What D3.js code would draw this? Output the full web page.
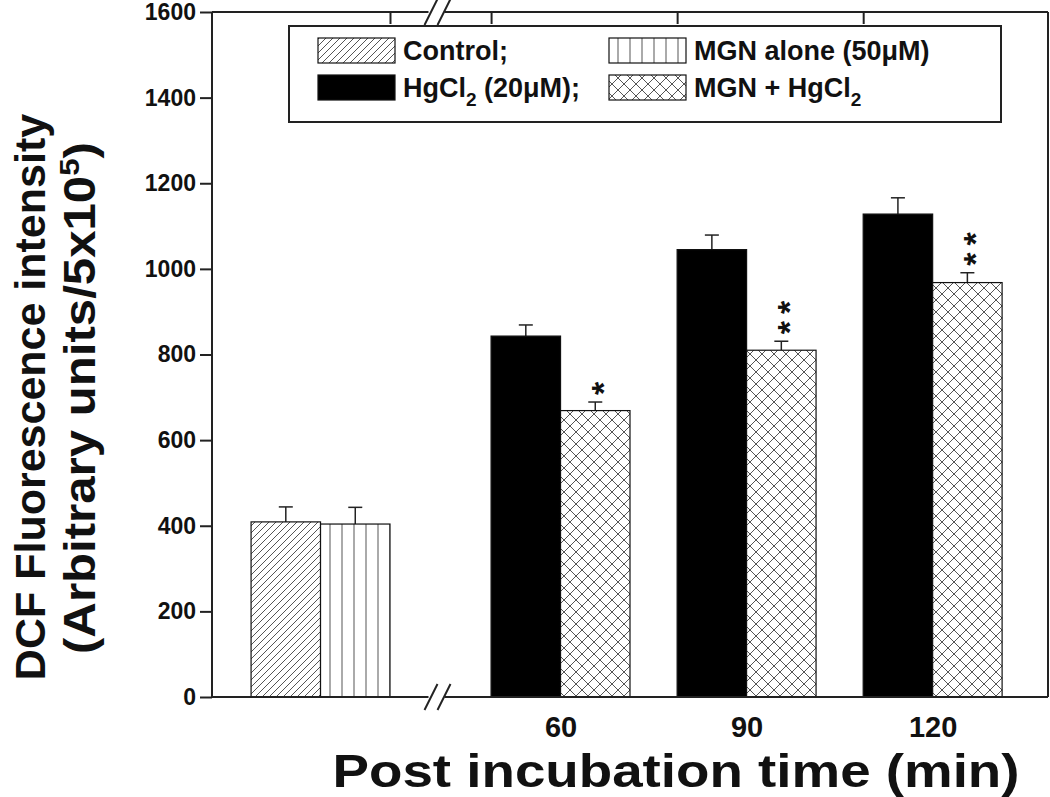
<!DOCTYPE html>
<html><head><meta charset="utf-8">
<script src="https://cdn.jsdelivr.net/npm/d3@7"></script>
<style>body{margin:0;background:#fff}svg{display:block}text{font-family:"Liberation Sans",Arial,sans-serif;font-weight:bold;fill:#111}</style>
</head><body>
<svg id="c" width="1050" height="797"></svg>
<script>
// ---- data ----
const baselineNames = ["Control;", "MGN alone (50μM)"];
const baselineMean = [409, 404];
const baselineErr = [35, 39];
const timeLabels = ["60", "90", "120"];
const timeValues = [60, 90, 120];
const hgMean = [843, 1045, 1128];
const hgErr = [26, 34, 38];
const mgnHgMean = [669, 810, 968];
const mgnHgErr = [20, 21, 23];
const sigMarks = ["*", "**", "**"];
const yTicks = [0, 200, 400, 600, 800, 1000, 1200, 1400, 1600];
const baselinePos = 21.3;   // position of baseline group on the time axis
const breakPos = 40;        // axis break location
const barW = 11.2;          // bar width in axis units

const svg = d3.select("#c");
const L = 212, R = 1048, T = 12, B = 697;
const x = d3.scaleLinear().domain([3.8, 138.6]).range([L, R]);
const y = d3.scaleLinear().domain([0, 1600]).range([B, T]);

// patterns
const defs = svg.append("defs");
const pd = defs.append("pattern").attr("id","diag").attr("patternUnits","userSpaceOnUse").attr("width",7).attr("height",7);
pd.append("rect").attr("width",7).attr("height",7).attr("fill","#fff");
pd.append("path").attr("d","M-1,1 L1,-1 M0,7 L7,0 M6,8 L8,6").attr("stroke","#555").attr("stroke-width",1);
const pv = defs.append("pattern").attr("id","vert").attr("patternUnits","userSpaceOnUse").attr("width",12).attr("height",12);
pv.append("rect").attr("width",12).attr("height",12).attr("fill","#fff");
pv.append("line").attr("x1",6).attr("x2",6).attr("y1",0).attr("y2",12).attr("stroke","#555").attr("stroke-width",1);
const pc = defs.append("pattern").attr("id","cross").attr("patternUnits","userSpaceOnUse").attr("width",12).attr("height",12);
pc.append("rect").attr("width",12).attr("height",12).attr("fill","#fff");
pc.append("path").attr("d","M0,0 L12,12 M12,0 L0,12").attr("stroke","#555").attr("stroke-width",1);

const fills = ["url(#diag)", "url(#vert)", "#000", "url(#cross)"];

// bars
const bars = [];
baselineMean.forEach((v,i)=>bars.push({x0: baselinePos + (i-1)*barW, v, e: baselineErr[i], fill: fills[i], sig:""}));
timeValues.forEach((t,i)=>{
  bars.push({x0: t - barW, v: hgMean[i], e: hgErr[i], fill: fills[2], sig:""});
  bars.push({x0: t, v: mgnHgMean[i], e: mgnHgErr[i], fill: fills[3], sig: sigMarks[i]});
});
const g = svg.append("g");
bars.forEach(b=>{
  const cx = x(b.x0 + barW/2);
  g.append("line").attr("x1",cx).attr("x2",cx).attr("y1",y(b.v)).attr("y2",y(b.v+b.e)).attr("stroke","#222").attr("stroke-width",1.5);
  g.append("line").attr("x1",cx-7).attr("x2",cx+7).attr("y1",y(b.v+b.e)).attr("y2",y(b.v+b.e)).attr("stroke","#222").attr("stroke-width",1.5);
  g.append("rect").attr("x",x(b.x0)).attr("y",y(b.v)).attr("width",x(b.x0+barW)-x(b.x0)).attr("height",y(0)-y(b.v))
    .attr("fill",b.fill).attr("stroke","#111").attr("stroke-width",1.2);
  if(b.sig){
    // stacked significance marks: one text run, rotated so the marks stack upward
    g.append("text").attr("transform",`translate(${cx+20},${y(b.v+b.e)-7}) rotate(-90)`)
      .attr("font-size",34).attr("letter-spacing",7).text(b.sig);
  }
});

// axes frame
const ax = svg.append("g").attr("stroke","#222").attr("stroke-width",2).attr("fill","none");
ax.append("line").attr("x1",L).attr("x2",L).attr("y1",T).attr("y2",B);
ax.append("line").attr("x1",R).attr("x2",R).attr("y1",T).attr("y2",B);
const bx = x(breakPos);
[T,B].forEach(yy=>{
  ax.append("line").attr("x1",L).attr("x2",bx-8).attr("y1",yy).attr("y2",yy);
  ax.append("line").attr("x1",bx+8).attr("x2",R).attr("y1",yy).attr("y2",yy);
  ax.append("line").attr("x1",bx-12).attr("x2",bx+1).attr("y1",yy+13).attr("y2",yy-13).attr("stroke-width",2);
  ax.append("line").attr("x1",bx+1).attr("x2",bx+14).attr("y1",yy+13).attr("y2",yy-13).attr("stroke-width",2);
});
// y axis
const yAxis = d3.axisLeft(y).tickValues(yTicks).tickSize(12).tickPadding(4).tickFormat(d3.format("d"));
const ya = svg.append("g").attr("transform",`translate(${L},0)`).call(yAxis);
ya.select(".domain").remove();
ya.selectAll("line").attr("stroke","#222").attr("stroke-width",2);
ya.selectAll("text").attr("font-size",23).style("font-family","'Liberation Sans',Arial,sans-serif").attr("font-weight","bold").attr("fill","#111");
// top ticks (group edges)
const edgeTicks = [baselinePos + barW].concat(timeValues.map(t=>t-barW));
const topAxis = d3.axisBottom(x).tickValues(edgeTicks).tickSize(12).tickFormat("");
const ta = svg.append("g").attr("transform",`translate(0,${T})`).call(topAxis);
ta.select(".domain").remove();
ta.selectAll("line").attr("stroke","#222").attr("stroke-width",2);
// bottom axis labels
const botAxis = d3.axisBottom(x).tickValues(timeValues).tickSize(0).tickPadding(19).tickFormat((d,i)=>timeLabels[i]);
const ba = svg.append("g").attr("transform",`translate(0,${B})`).call(botAxis);
ba.select(".domain").remove();
ba.selectAll("text").attr("font-size",29).style("font-family","'Liberation Sans',Arial,sans-serif").attr("font-weight","bold").attr("fill","#111");

// axis titles
svg.append("text").attr("x",676).attr("y",787).attr("text-anchor","middle").attr("font-size",46)
  .attr("textLength",687).attr("lengthAdjust","spacingAndGlyphs").text("Post incubation time (min)");
const yl = svg.append("text").attr("transform","translate(45,397) rotate(-90)").attr("text-anchor","middle").attr("font-size",43);
yl.text("DCF Fluorescence intensity");
const yl2 = svg.append("text").attr("transform","translate(95,398) rotate(-90)").attr("text-anchor","middle").attr("font-size",44)
  .attr("textLength",512).attr("lengthAdjust","spacingAndGlyphs");
yl2.append("tspan").text("(Arbitrary units/5x10");
yl2.append("tspan").attr("dy",-16).attr("font-size",28).text("5");
yl2.append("tspan").attr("dy",16).text(")");

// legend
const lg = svg.append("g");
lg.append("rect").attr("x",289).attr("y",26).attr("width",712).attr("height",96).attr("fill","#fff").attr("stroke","#222").attr("stroke-width",2);
const legItems = [
  {fill:fills[0], col:0, row:0, parts:[["Control;",0]]},
  {fill:fills[1], col:1, row:0, parts:[["MGN alone (50μM)",0]]},
  {fill:fills[2], col:0, row:1, parts:[["HgCl",0],["2",1],[" (20μM);",0]]},
  {fill:fills[3], col:1, row:1, parts:[["MGN + HgCl",0],["2",1]]}
];
const colX = [318, 609], rowY = [38, 75];
legItems.forEach(it=>{
  const sx = colX[it.col], sy = rowY[it.row];
  lg.append("rect").attr("x",sx).attr("y",sy).attr("width",77).attr("height",25).attr("fill",it.fill).attr("stroke","#111").attr("stroke-width",1.2);
  const t = lg.append("text").attr("x",sx+85).attr("y",sy+22).attr("font-size",27);
  let sub=false;
  it.parts.forEach(([s,isSub])=>{
    const ts = t.append("tspan").text(s);
    if(isSub && !sub){ts.attr("dy",9).attr("font-size",19);sub=true;}
    else if(!isSub && sub){ts.attr("dy",-9);sub=false;}
  });
});
</script>
</body></html>
